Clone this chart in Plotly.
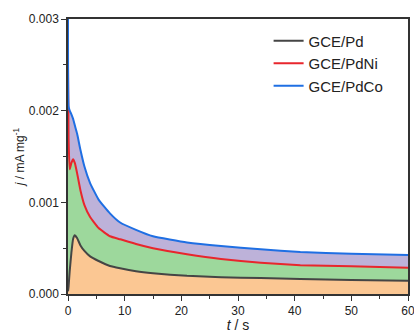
import plotly.graph_objects as go

# Chronoamperometry: time (s) vs. mass-normalised current density (mA mg^-1)
t = [0, 0.1, 0.3, 0.6, 0.9, 1.2, 1.6, 2.2, 2.9, 3.9, 5.4, 7.4, 9.2, 12, 15, 21, 27, 34, 41, 50, 60]

j_pd = [0.00003, 0.00008, 0.00025, 0.00045, 0.00060, 0.00064, 0.00061, 0.00053, 0.00047, 0.00041,
        0.00036, 0.000305, 0.00028, 0.000248, 0.000226, 0.000198, 0.000183, 0.000174, 0.000163,
        0.000153, 0.000145]

j_pdni = [0.0025, 0.0017, 0.00136, 0.00143, 0.00147, 0.00143, 0.00132, 0.00113, 0.00097, 0.00084,
          0.00072, 0.00063, 0.000597, 0.000545, 0.000499, 0.000433, 0.000381, 0.000342, 0.000315,
          0.000303, 0.000287]

j_pdco = [0.0030, 0.00205, 0.00200, 0.00196, 0.00191, 0.00184, 0.00175, 0.00157, 0.00139, 0.00121,
          0.00103, 0.00088, 0.00078, 0.00070, 0.00063, 0.000563, 0.000523, 0.000488, 0.000458,
          0.00044, 0.000425]

names = ["GCE/Pd", "GCE/PdNi", "GCE/PdCo"]
line_colors = ["#454545", "#e8262d", "#1f6fe3"]
fill_colors = ["#fbc793", "#9dd89c", "#bdb2d9"]
fill_modes = ["tozeroy", "tonexty", "tonexty"]

fig = go.Figure()
# stacked shaded bands, each bounded by its own curve
for name, y, lc, fc, fm in zip(names, [j_pd, j_pdni, j_pdco], line_colors, fill_colors, fill_modes):
    fig.add_trace(go.Scatter(
        x=t, y=y, name=name, mode="lines", showlegend=False,
        line=dict(color=lc, width=2, shape="spline", smoothing=0.4),
        fill=fm, fillcolor=fc,
    ))
# plain line keys for the legend
for name, lc in zip(names, line_colors):
    fig.add_trace(go.Scatter(
        x=[None], y=[None], name=name, mode="lines",
        line=dict(color=lc, width=2),
    ))

axis_common = dict(
    showline=True, linecolor="#333333", linewidth=1.5, mirror=True,
    ticks="outside", ticklen=5, tickwidth=1, tickcolor="#333333",
    showgrid=False, zeroline=False, automargin=False,
    ticklabeloverflow="allow",
    tickfont=dict(family="Liberation Sans, Arial", size=12, color="#222222"),
)

fig.update_xaxes(
    range=[0, 60], tickvals=[0, 10, 20, 30, 40, 50, 60],
    minor=dict(ticks="outside", ticklen=3, tickcolor="#333333", dtick=5, tick0=0),
    title=dict(text="<i>t</i> / s", font=dict(family="Liberation Sans, Arial", size=14, color="#222222"),
               standoff=14),
    **axis_common,
)
fig.update_yaxes(
    range=[0, 0.003], tickvals=[0, 0.001, 0.002, 0.003],
    ticktext=["0.000", "0.001", "0.002", "0.003"],
    minor=dict(ticks="outside", ticklen=3, tickcolor="#333333", dtick=0.0005, tick0=0),
    title=dict(text="<i>j</i> / mA mg<sup>-1</sup>" + "\u00a0" * 7,
               font=dict(family="Liberation Sans, Arial", size=12, color="#222222"),
               standoff=2),
    **axis_common,
)

fig.update_layout(
    width=414, height=333,
    margin=dict(l=68, r=6, t=19, b=39),
    plot_bgcolor="white", paper_bgcolor="white",
    showlegend=True,
    legend=dict(
        x=0.59, y=0.98, xanchor="left", yanchor="top",
        bgcolor="rgba(0,0,0,0)", borderwidth=0, traceorder="normal",
        font=dict(family="Liberation Sans, Arial", size=15, color="#222222"),
        tracegroupgap=0, itemwidth=30,
    ),
)

fig.write_html("out.html")
